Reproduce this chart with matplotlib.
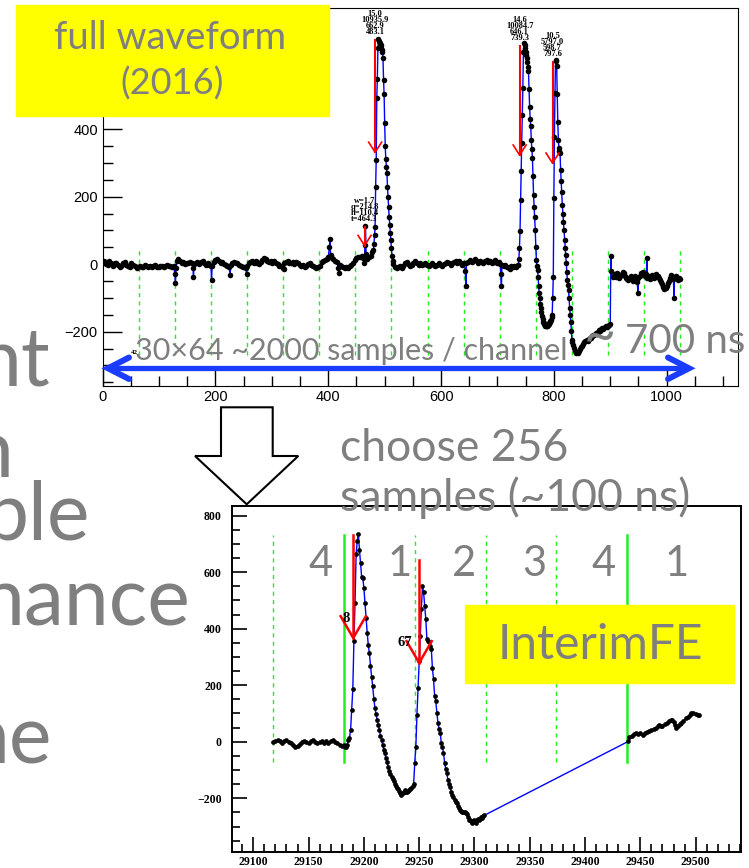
import matplotlib
matplotlib.use("Agg")
import matplotlib.pyplot as plt
from matplotlib.patches import Rectangle, Polygon
from matplotlib.ticker import MultipleLocator

# ---------------- data ----------------
# full waveform (2016): (sample, adc)
wf_base = [(0,5),(3,8),(6,0),(9,-3),(12,8),(15,3),(18,-5),(21,2),(24,4),(27,-2),(30,-8),(33,-4),(36,2),(39,6),
           (42,-2),(45,-5),(48,-7),(51,2),(54,-3),(57,-6),(60,-10),(63,-8),(66,-4),(69,-7),(72,-9),(75,-3),
           (78,-6),(81,-8),(84,-4),(87,-9),(90,-6),(93,-3),(96,-7),(99,-9),(102,-4),(105,-6),(108,-8),(111,-4),
           (114,-2),(117,-6),(120,-5),(123,-8),(126,-6),(128,-30),(129,-55),(130,-10),(132,10),(134,15),(137,8),
           (140,3),(143,6),(146,0),(149,4),(152,2),(155,6),(158,3),(160,-10),(161,-37),(162,0),(165,4),(168,6),
           (171,0),(174,5),(177,8),(180,4),(183,-2),(186,2),(189,-3),(192,-6),(193,-46),(194,-5),(197,6),(200,12),
           (203,14),(206,8),(209,3),(212,6),(215,0),(218,-3),(221,-6),(224,-8),(226,-32),(227,-2),(230,3),(233,6),
           (236,2),(239,4),(242,-2),(245,-6),(248,-9),(251,-7),(254,-10),(255,-29),(256,-4),(259,2),(262,6),
           (265,9),(268,4),(271,8),(274,3),(277,1),(280,5),(283,12),(286,18),(289,15),(292,10),(295,6),(298,9),
           (301,4),(304,8),(307,3),(310,0),(313,-4),(316,-6),(319,-12),(321,-15),(322,2),(325,6),(328,9),(331,4),
           (334,2),(337,6),(340,1),(343,5),(346,3),(349,-2),(352,-6),(355,-3),(358,-8),(361,-4),(364,0),(367,3),
           (370,-2),(373,-6),(376,-9),(379,-12),(382,-8),(385,-4),(388,5),(391,9),(394,12),(397,16),(400,20),
           (402,52),(403,76),(404,28),(406,18),(409,14),(412,10),(415,6),(418,-10),(419,-25),(420,-2),(423,-5),
           (426,-9),(429,-12),(432,-8),(435,-10),(438,-5),(441,-2),(444,4),(447,12),(450,18),(453,22),(456,20),
           (459,24),(462,18),(464,2),(465,57),(466,113),(467,30),(469,15),(472,22),(475,25),(478,35),(480,42)]
wf_peak1 = [(481,60),(482,87),(483,111),(484,230),(485,309),(486,492),(487,549),(488,640),(489,667),(490,660),
            (491,655),(492,645),(493,640),(494,650),(495,635),(496,630),(497,611),(498,546),(499,504),(500,418),
            (501,350),(502,311),(503,289),(504,270),(505,229),(506,199),(507,170),(508,140),(509,117),(510,92),
            (511,72),(512,48),(513,23),(514,8),(515,0)]
wf_mid = [(518,-8),(521,-12),(524,-8),(527,-5),(530,-10),(533,-4),(536,2),(539,6),(542,0),(545,-4),(548,-2),
          (551,3),(554,8),(557,4),(560,-1),(563,2),(566,-3),(569,0),(572,4),(575,-2),(578,-5),(581,-1),(584,3),
          (587,-3),(590,-6),(593,-2),(596,2),(599,-3),(602,-5),(605,0),(608,4),(611,7),(614,2),(617,-2),(620,3),
          (623,6),(626,10),(629,4),(632,8),(635,3),(638,-1),(641,4),(643,-20),(644,-66),(645,2),(648,6),(651,12),
          (654,5),(657,8),(660,14),(663,9),(666,4),(669,10),(672,6),(675,2),(678,8),(681,12),(684,5),(687,9),
          (690,3),(693,7),(696,11),(699,4),(702,6),(705,0),(706,-30),(707,-66),(708,-2),(711,-6),(714,-3),
          (717,-8),(720,-12),(722,-15),(724,-6),(727,-9),(730,-4),(733,-7),(736,-3)]
wf_peak23 = [(737,-3),(738,15),(739,48),(740,97),(741,190),(742,277),(743,360),(744,442),(745,522),(746,630),
             (747,656),(748,648),(749,640),(750,630),(751,620),(752,610),(753,600),(754,585),(755,571),(756,519),
             (757,467),(758,430),(759,408),(760,368),(761,340),(762,315),(763,260),(764,205),(765,170),(766,141),
             (767,102),(768,52),(769,13),(770,-5),(771,-17),(772,-37),(773,-66),(774,-86),(775,-100),(776,-118),
             (777,-130),(778,-143),(779,-155),(780,-163),(781,-170),(782,-175),(783,-178),(784,-181),(785,-182),
             (786,-184),(787,-183),(788,-182),(789,-181),(790,-179),(791,-178),(792,-175),(793,-172),(794,-168),
             (795,-165),(796,-158),(797,-150),(798,-100),(799,-37),(800,196),(801,378),(802,507),(803,605),
             (804,602),(805,586),(806,504),(807,420),(808,368),(809,344),(810,335),(811,329),(812,279),(813,245),
             (814,215),(815,175),(816,150),(817,126),(818,102),(819,72),(820,48),(821,26),(822,4),(823,-22),
             (824,-47),(825,-62),(826,-76),(827,-100),(828,-130),(829,-150),(830,-170),(831,-198),(832,-224),
             (833,-232),(834,-240),(836,-249),(838,-256),(840,-262),(842,-264),(844,-258),(846,-252),(848,-246),
             (850,-242),(852,-238),(854,-232),(856,-229),(858,-226),(860,-228),(862,-222),(864,-218),(866,-220),
             (868,-214),(870,-210),(872,-209),(874,-204),(876,-206),(878,-200),(880,-196),(882,-198),(884,-193),
             (886,-190),(888,-192),(890,-187),(892,-184),(894,-186),(896,-182),(898,-180),(900,-178)]
wf_tail = [(901,23),(902,-20),(904,-38),(906,-34),(908,-30),(910,-38),(912,-26),(914,-32),(916,-42),(918,-36),
           (920,-30),(922,-22),(924,-26),(926,-34),(928,-40),(930,-44),(932,-48),(934,-40),(936,-35),(938,-44),
           (940,-50),(942,-42),(944,-36),(946,-44),(948,-52),(949,-86),(950,-40),(952,-34),(954,-26),(956,-30),
           (958,-22),(960,-26),(962,-34),(964,-30),(965,18),(966,-40),(968,-35),(970,-44),(972,-40),(974,-31),
           (976,-35),(978,-40),(980,-32),(982,-28),(984,-34),(986,-40),(988,-46),(990,-52),(992,-60),(994,-68),
           (996,-74),(998,-70),(1000,-64),(1002,-56),(1004,-50),(1006,-42),(1008,-32),(1010,-36),(1012,-44),
           (1013,-100),(1014,-40),(1016,-34),(1018,-40),(1020,-46),(1022,-42),(1023,-44)]

# found pulses: (w, q, h, t) labels, then h and t values
pulses_full = [("w=1.7", "q=214.8", "h=110.4", "t=464.3", 110.4, 464.3),
               ("15.0", "10935.9", "662.9", "483.1", 662.9, 483.1),
               ("14.6", "10084.7", "646.1", "739.3", 646.1, 739.3),
               ("10.5", "5797.0", "598.7", "797.6", 598.7, 797.6)]
win_full = list(range(64, 1025, 64))

# InterimFE: 256 chosen samples
ife_a = [(29118,0),(29120,4),(29122,6),(29124,2),(29126,-4),(29128,3),(29130,6),(29132,0),(29134,-6),(29136,-12),
         (29138,-17),(29140,-14),(29142,-8),(29144,-2),(29146,3),(29148,0),(29150,-4),(29152,2),(29154,5),
         (29156,0),(29158,-5),(29160,-2),(29162,4),(29164,-3),(29166,2),(29168,-6),(29170,4),(29172,6),(29174,0),
         (29176,-6),(29178,-12),(29180,-16),(29182,-10),(29183,-18),(29184,-17),(29185,-10),(29186,5),(29187,13),
         (29188,42),(29189,113),(29190,186),(29191,355),(29192,491),(29193,663),(29194,710),(29195,736),
         (29196,680),(29197,632),(29198,583),(29199,580),(29200,545),(29201,491),(29202,438),(29203,386),
         (29204,343),(29205,313),(29206,269),(29207,230),(29208,196),(29209,152),(29210,120),(29211,98),
         (29212,78),(29213,59),(29214,42),(29215,21),(29216,7),(29217,-11),(29218,-28),(29219,-41),(29220,-58),
         (29221,-72),(29222,-90),(29223,-105),(29224,-115),(29225,-124),(29226,-132),(29227,-140),(29228,-150),
         (29229,-156),(29230,-162),(29231,-168),(29232,-175),(29233,-180),(29234,-188),(29235,-183),(29236,-178),
         (29237,-170),(29238,-176),(29239,-178),(29240,-174),(29241,-172),(29242,-168),(29243,-165),(29244,-158),
         (29245,-150),(29246,-76),(29247,-17),(29248,95),(29249,190),(29250,286),(29251,375),(29252,469),
         (29253,552),(29254,529),(29255,481),(29256,434),(29257,363),(29258,358),(29259,352),(29260,340),
         (29261,327),(29262,260),(29263,221),(29264,162),(29265,145),(29266,103),(29267,67),(29268,45),(29269,32),
         (29270,-3),(29271,-20),(29272,-39),(29273,-74),(29274,-95),(29275,-111),(29276,-135),(29277,-148),
         (29278,-159),(29279,-177),(29280,-188),(29281,-195),(29282,-205),(29283,-212),(29284,-218),(29285,-226),
         (29286,-236),(29287,-240),(29288,-244),(29289,-248),(29290,-250),(29291,-250),(29292,-252),(29293,-256),
         (29294,-266),(29295,-278),(29296,-276),(29297,-280),(29298,-288),(29299,-284),(29300,-278),(29301,-286),
         (29302,-278),(29303,-272),(29304,-276),(29305,-272),(29306,-266),(29307,-270),(29308,-262),(29309,-260)]
ife_b = [(29439,1),(29440,18),(29442,22),(29444,28),(29446,31),(29448,26),(29450,30),(29452,25),(29454,32),
         (29456,35),(29458,37),(29460,42),(29462,45),(29464,49),(29466,55),(29467,60),(29469,56),(29470,55),
         (29472,62),(29474,68),(29476,72),(29478,76),(29479,78),(29480,70),(29481,58),(29482,49),(29484,56),
         (29486,63),(29487,67),(29489,74),(29491,84),(29493,88),(29495,96),(29496,103),(29498,100),(29500,97),
         (29502,95),(29503,94)]
# (label, top, tip, t, label offset in px)
pulses_ife = [("8", 730, 367, 29190.4, (-7, 20)), ("67", 642, 279, 29250, (-14, 20))]
win_ife = [29118, 29182, 29246, 29310, 29374, 29438]
win_ife_solid = [29182, 29438]
window_ids = ["4", "1", "2", "3", "4", "1"]

GRAY = "#7f7f7f"
W, H = 749, 868

fig = plt.figure(figsize=(W/100, H/100), dpi=100)

# ---------------- top: full waveform ----------------
ax1 = fig.add_axes([102.7/W, 1-386/H, 635/W, 378/H])
pts = wf_base + wf_peak1 + wf_mid + wf_peak23 + wf_tail
xs = [p[0] for p in pts]
ys = [p[1] for p in pts]
ax1.vlines(win_full, -270, 45, colors="#22ee22", linestyles=(0, (3, 3)), lw=1, zorder=1)
ax1.plot(xs, ys, color="blue", lw=1, zorder=2)
ax1.plot(xs, ys, "o", color="black", ms=4, mew=0, zorder=3)
for w, q, h, t, hv, tv in pulses_full:
    ax1.plot([tv, tv], [hv, hv/2], color="red", lw=1.5, zorder=4)
    ax1.plot([tv-11.5, tv, tv+11.5], [hv/2+30, hv/2, hv/2+30], color="red", lw=1.2, zorder=4)
    for k, s in enumerate([t, h, q, w]):
        ax1.annotate(s, (tv, hv), xytext=(0, 8+6*k), textcoords="offset pixels", ha="center", va="center",
                     fontsize=6, fontweight="bold", family="Liberation Serif", zorder=5)
ax1.set_xlim(0, 1126)
ax1.set_ylim(-361, 759)
ax1.xaxis.set_major_locator(MultipleLocator(200))
ax1.xaxis.set_minor_locator(MultipleLocator(50))
ax1.yaxis.set_major_locator(MultipleLocator(200))
ax1.yaxis.set_minor_locator(MultipleLocator(50))
ax1.tick_params(which="both", direction="in", top=False, right=False, width=1)
ax1.tick_params(which="major", length=13.5)
ax1.tick_params(which="minor", length=7)
ax1.tick_params(axis="y", pad=3.5)
ax1.tick_params(axis="x", pad=3)
for lab in ax1.get_xticklabels() + ax1.get_yticklabels():
    lab.set_family("Liberation Sans")
    lab.set_fontsize(10.5)

# ---------------- bottom: InterimFE ----------------
ax2 = fig.add_axes([231.7/W, 1-852/H, 509.3/W, 346.3/H])
pts2 = ife_a + ife_b
xs2 = [p[0] for p in pts2]
ys2 = [p[1] for p in pts2]
for xv in win_ife:
    if xv in win_ife_solid:
        ax2.plot([xv, xv], [-70, 733], color="#22ee22", lw=1.8, zorder=1)
    else:
        ax2.plot([xv, xv], [-70, 733], color="#22ee22", lw=1, ls=(0, (3, 3)), zorder=1)
ax2.plot(xs2, ys2, color="blue", lw=1, zorder=2)
ax2.plot(xs2, ys2, "o", color="black", ms=3.4, mew=0, zorder=3)
for lab, top, tip, tv, off in pulses_ife:
    ax2.plot([tv, tv], [top, tip], color="red", lw=1.8, zorder=4)
    ax2.plot([tv-11.4, tv, tv+11.4], [tip+77, tip, tip+77], color="red", lw=1.8, zorder=4)
    ax2.annotate(lab, (tv, tip), xytext=off, textcoords="offset pixels", ha="center",
                 va="center", fontsize=10.5, fontweight="bold", family="Liberation Serif", zorder=5)
ax2.set_xlim(29080.5, 29541)
ax2.set_ylim(-390, 835)
ax2.xaxis.set_major_locator(MultipleLocator(50))
ax2.xaxis.set_minor_locator(MultipleLocator(10))
ax2.yaxis.set_major_locator(MultipleLocator(200))
ax2.yaxis.set_minor_locator(MultipleLocator(50))
ax2.tick_params(which="both", direction="in", top=False, right=False, width=1.2)
ax2.tick_params(which="major", length=10.8)
ax2.tick_params(which="minor", length=5.5)
ax2.tick_params(axis="y", pad=7)
ax2.tick_params(axis="x", pad=3)
for sp in ax2.spines.values():
    sp.set_linewidth(1.4)
for lab in ax2.get_xticklabels() + ax2.get_yticklabels():
    lab.set_family("Liberation Serif")
    lab.set_fontweight("bold")
    lab.set_fontsize(8.5)

# ---------------- slide overlay (pixel coords) ----------------
ov = fig.add_axes([0, 0, 1, 1])
ov.set_xlim(0, W)
ov.set_ylim(H, 0)
ov.axis("off")

txt = dict(color=GRAY, family="Lato")

# cut-off slide text on the left
for s, xr, yb in [("ht", 50, 385), ("n", 13, 477), ("ble", 90, 540), ("nance", 190, 625), ("ne", 52, 763)]:
    ov.text(xr, yb, s, ha="right", va="baseline", fontsize=58, **txt)

# yellow labels
ov.add_patch(Rectangle((16, 5), 313, 110.7, color="#ffff00", zorder=5))
ov.text(170, 38, "full waveform", ha="center", va="center", fontsize=27.5, zorder=6, **txt)
ov.text(172, 84, "(2016)", ha="center", va="center", fontsize=26, zorder=6, **txt)
ov.add_patch(Rectangle((465, 605), 269, 77.7, color="#ffff00", zorder=5))
ov.text(600, 645, "InterimFE", ha="center", va="center", fontsize=34.5, zorder=6, **txt)

# channel length annotation
ov.text(134, 352.7, "42", ha="center", va="center", fontsize=5, fontweight="bold", family="Liberation Serif",
        color="black", zorder=6)
ov.text(135, 360, "30×64 ~2000 samples / channel", ha="left", va="baseline", fontsize=22, zorder=6, **txt)
ov.text(600, 353, "~", ha="center", va="baseline", fontsize=40, zorder=6, **txt)
ov.text(625, 353, "700 ns", ha="left", va="baseline", fontsize=29, zorder=6, **txt)
ov.plot([112, 684], [368.3, 368.3], color="#1a3cff", lw=3.8, solid_capstyle="butt", zorder=7)
ov.plot([129, 108, 129], [357.5, 368.3, 379], color="#1a3cff", lw=4.3, solid_capstyle="round",
        solid_joinstyle="miter", zorder=7)
ov.plot([668, 689, 668], [357.5, 368.3, 379], color="#1a3cff", lw=4.3, solid_capstyle="round",
        solid_joinstyle="miter", zorder=7)

# hollow arrow down to the zoomed plot
ov.add_patch(Polygon([(221, 407.3), (272.7, 407.3), (272.7, 456), (298.3, 456), (246.7, 504.3), (195, 456),
                      (221, 456)], closed=True, facecolor="white", edgecolor="black", lw=1.5, zorder=6))
ov.text(340, 461, "choose 256", ha="left", va="baseline", fontsize=32, zorder=6, **txt)
ov.text(340, 511, "samples (~100 ns)", ha="left", va="baseline", fontsize=32, zorder=6, **txt)

# window numbers in the zoomed plot
for s, xc in zip(window_ids, [321, 400, 464, 534, 604, 677]):
    ov.text(xc, 564, s, ha="center", va="center", fontsize=30, zorder=6, **txt)

fig.savefig("out.png", dpi=100)
